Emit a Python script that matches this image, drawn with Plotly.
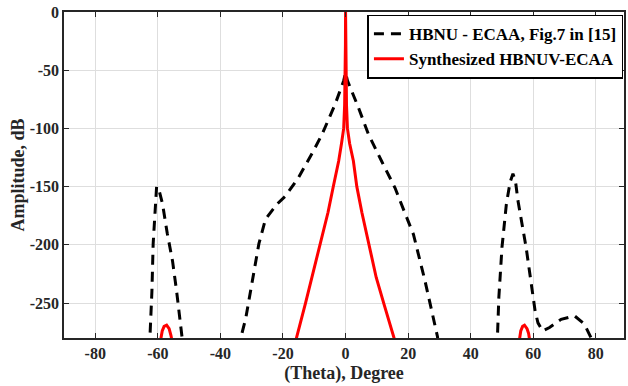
import plotly.graph_objects as go

# HBNU - ECAA, Fig.7 in [15] (black dashed) ; None separates lobes
ref_theta = [-62.7, -62.5, -61.9, -61.5, -60.9, -60.4, -59.8, -58.5, -57.0, -55.3, -54.0, -52.6, -52.0, -51.8,
             None,
             -33.7, -33.5, -31.9, -29.8, -27.7, -25.6, -21.9, -19.2, -15.0, -10.2, -7.5, -3.3, -0.6, 0.0,
             0.6, 4.1, 7.3, 11.5, 15.8, 17.4, 21.7, 25.4, 28.0, 29.4, 29.6,
             None,
             48.4, 48.5, 49.0, 50.0, 51.4, 52.6, 53.5, 54.3, 55.1, 57.7, 59.3, 60.6, 61.5, 63.0, 65.2, 68.9,
             73.2, 76.3, 78.5, 78.7]
ref_db = [-290, -280, -240, -199, -165, -150, -151, -165, -190, -214, -240, -268, -280, -290,
          None,
          -290, -280, -263, -231, -199, -178, -165, -158, -142, -119, -105, -79, -59, -52,
          -59, -82, -105, -128, -151, -162, -191, -231, -263, -279, -290,
          None,
          -290, -280, -245, -202, -165, -146, -139, -145, -162, -202, -234, -257, -267, -274, -271, -264,
          -261, -268, -280, -290]

# Synthesized HBNUV-ECAA (red solid)
syn_theta = [-59.2, -59.0, -58.6, -58.0, -57.2, -56.4, -55.8, -55.5, -55.3,
             None,
             -15.9, -15.7, -12.8, -10.2, -7.7, -5.6, -4.0, -2.2, -1.3, -0.6, -0.3, -0.12, -0.04, 0.0,
             0.04, 0.12, 0.3, 0.6, 1.3, 2.5, 3.6, 5.2, 7.4, 9.8, 12.4, 15.5, 15.7,
             None,
             55.4, 55.6, 56.0, 56.6, 57.2, 58.0, 58.5, 58.8, 59.0]
syn_db = [-290, -280, -274, -270, -269, -272, -278, -282, -290,
          None,
          -290, -280, -250, -222, -196, -172, -151, -128, -113, -100, -80, -55, -28, 0,
          -28, -55, -80, -100, -113, -128, -150, -172, -200, -228, -252, -280, -290,
          None,
          -290, -281, -274, -270, -269, -272, -276, -281, -290]

x_ticks = [-80, -60, -40, -20, 0, 20, 40, 60, 80]
y_ticks = [-250, -200, -150, -100, -50, 0]

FONT = "Liberation Serif"
TXT = "#262626"

fig = go.Figure()
fig.add_trace(go.Scatter(x=ref_theta, y=ref_db, mode="lines", name="HBNU - ECAA, Fig.7 in [15]",
                         line=dict(color="black", width=3, dash="10px,7px"), connectgaps=False))
fig.add_trace(go.Scatter(x=syn_theta, y=syn_db, mode="lines", name="Synthesized HBNUV-ECAA",
                         line=dict(color="#ff0000", width=3), connectgaps=False))

axis_common = dict(showgrid=True, gridcolor="#dedede", gridwidth=1,
                   showline=True, linecolor=TXT, linewidth=1.5, mirror="ticks",
                   ticks="inside", ticklen=5, tickwidth=1, tickcolor=TXT, zeroline=False,
                   tickfont=dict(family=FONT, size=16, color=TXT, weight="bold"))

fig.update_layout(
    width=628, height=386,
    margin=dict(l=64, r=2, t=12, b=48),
    paper_bgcolor="white", plot_bgcolor="white",
    font=dict(family=FONT, size=16, color=TXT, weight="bold"),
    xaxis=dict(range=[-90, 89], tickvals=x_ticks, ticktext=[str(v) for v in x_ticks],
               title=dict(text="(Theta), Degree", standoff=5,
                          font=dict(family=FONT, size=18, color=TXT, weight="bold")),
               **axis_common),
    yaxis=dict(range=[-280, 0], tickvals=y_ticks, ticktext=[str(v) for v in y_ticks],
               title=dict(text="Amplitude, dB", standoff=0,
                          font=dict(family=FONT, size=18, color=TXT, weight="bold")),
               **axis_common),
    legend=dict(x=0.999, y=0.992, xanchor="right", yanchor="top",
                bgcolor="white", bordercolor="black", borderwidth=1.5,
                font=dict(family=FONT, size=17, color="black", weight="bold"),
                tracegroupgap=0, itemwidth=30),
    showlegend=True,
)

fig.write_html("out.html")
